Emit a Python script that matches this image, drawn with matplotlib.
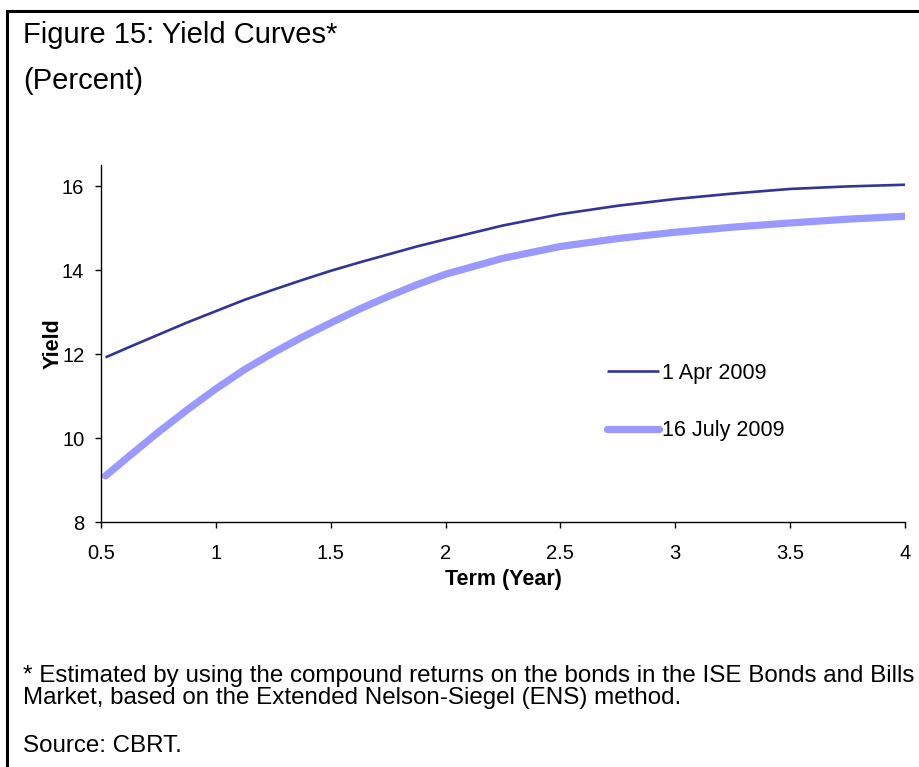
import matplotlib
matplotlib.use("Agg")
import matplotlib.pyplot as plt
from matplotlib.patches import Rectangle

plt.rcParams["font.family"] = ["Liberation Sans", "DejaVu Sans"]

# Term structure (years) and fitted yields (percent)
term = [0.52, 0.625, 0.75, 0.875, 1.0, 1.125, 1.25, 1.375, 1.5, 1.625, 1.75, 1.875,
        2.0, 2.25, 2.5, 2.75, 3.0, 3.25, 3.5, 3.75, 4.0]
yield_apr = [11.92, 12.17, 12.46, 12.75, 13.02, 13.29, 13.53, 13.76, 13.98, 14.18,
             14.37, 14.56, 14.73, 15.06, 15.33, 15.53, 15.69, 15.82, 15.93, 15.99, 16.03]
yield_jul = [9.10, 9.58, 10.14, 10.67, 11.17, 11.63, 12.03, 12.40, 12.74, 13.07,
             13.37, 13.65, 13.90, 14.28, 14.56, 14.75, 14.90, 15.02, 15.12, 15.21, 15.28]
series_labels = ["1 Apr 2009", "16 July 2009"]
x_ticks = [0.5, 1, 1.5, 2, 2.5, 3, 3.5, 4]
x_tick_labels = ["0.5", "1", "1.5", "2", "2.5", "3", "3.5", "4"]
y_ticks = [8, 10, 12, 14, 16]

W, H = 920, 767
fig = plt.figure(figsize=(W / 100, H / 100), dpi=100)


def fx(px):
    return px / W


def fy(py):
    return 1 - py / H


# outer frame
fig.patches.append(Rectangle((fx(7), fy(H + 20)), 2, fy(11) - fy(H + 20),
                             transform=fig.transFigure, fill=False,
                             edgecolor="black", linewidth=2.2))

fig.text(fx(23), fy(43), "Figure 15: Yield Curves*", fontsize=21, va="baseline")
fig.text(fx(23), fy(89), "(Percent)", fontsize=21, va="baseline")

note_size = 17.4
fig.text(fx(23), fy(682), "* Estimated by using the compound returns on the bonds in the ISE Bonds and Bills",
         fontsize=note_size, va="baseline")
fig.text(fx(23), fy(704), "Market, based on the Extended Nelson-Siegel (ENS) method.",
         fontsize=note_size, va="baseline")
fig.text(fx(23), fy(752), "Source: CBRT.", fontsize=note_size, va="baseline")

ax = fig.add_axes([fx(101), fy(522), fx(905) - fx(101), fy(165) - fy(522)])
ax.plot(term, yield_apr, color="#333399", linewidth=1.9, label=series_labels[0],
        solid_capstyle="butt", solid_joinstyle="round")
ax.plot(term, yield_jul, color="#9999FF", linewidth=5.2, label=series_labels[1],
        solid_capstyle="round", solid_joinstyle="round")

ax.set_xlim(0.5, 4.0)
ax.set_ylim(8, 16.5)
ax.set_xticks(x_ticks)
ax.set_xticklabels(x_tick_labels)
ax.set_yticks(y_ticks)
for s in ["top", "right"]:
    ax.spines[s].set_visible(False)
for s in ["left", "bottom"]:
    ax.spines[s].set_linewidth(1.0)
ax.tick_params(axis="both", direction="out", length=4, width=1.0, labelsize=14.5)
ax.tick_params(axis="y", pad=8)
ax.tick_params(axis="x", pad=12)

ax.set_xlabel("Term (Year)", fontsize=15.5, fontweight="bold", labelpad=4)
ax.set_ylabel("Yield", fontsize=15.5, fontweight="bold", labelpad=-1)

ax.legend(loc="center left", bbox_to_anchor=(fx(607), fy(402)),
          bbox_transform=fig.transFigure, frameon=False, fontsize=15.5,
          handlelength=2.4, handletextpad=0.15, labelspacing=1.71,
          borderpad=0, borderaxespad=0)

fig.savefig("out.png", dpi=100)
